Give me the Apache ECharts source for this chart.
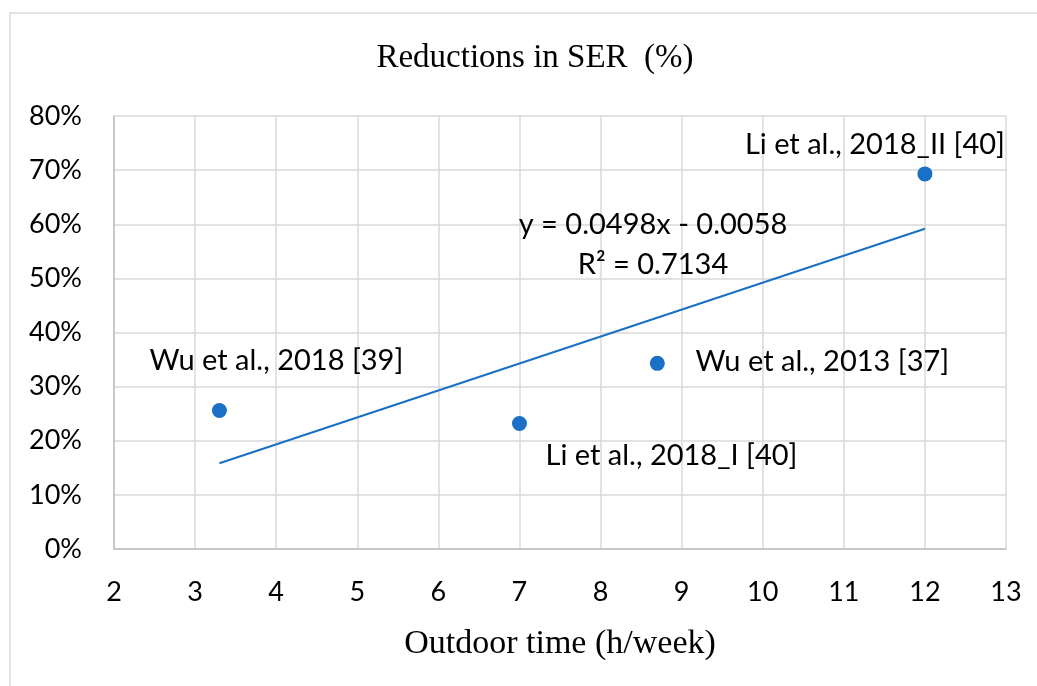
<!DOCTYPE html>
<html>
<head>
<meta charset="utf-8">
<script src="https://cdn.jsdelivr.net/npm/echarts@6/dist/echarts.min.js"></script>
<style>
  html, body { margin: 0; padding: 0; background: #fff; }
  #chart { width: 1037px; height: 686px; }
</style>
</head>
<body>
<div id="chart"></div>
<script>
  // studies: outdoor time (h/week) vs reduction in SER
  var studyNames = ['Wu et al., 2018 [39]', 'Li et al., 2018_I [40]', 'Wu et al., 2013 [37]', 'Li et al., 2018_II [40]']
  var outdoorHours = [3.3, 7, 8.7, 12]
  var serReduction = [0.256, 0.232, 0.343, 0.693]

  // linear trendline from the figure
  var slope = 0.0498
  var intercept = -0.0058
  var r2 = 0.7134

  var xTicks = [2, 3, 4, 5, 6, 7, 8, 9, 10, 11, 12, 13]
  var yTicks = [0, 0.1, 0.2, 0.3, 0.4, 0.5, 0.6, 0.7, 0.8]

  // label offsets (px) relative to each point
  var labelOffsets = [[57, -50], [152, 32], [165, -2], [-50, -29]]

  var blue = '#1a6fc6'
  var sans = 'Lato, "Open Sans", sans-serif'
  var serif = '"Liberation Serif", "DejaVu Serif", serif'

  var myChart = echarts.init(document.getElementById('chart'))

  var points = outdoorHours.map(function (x, i) {
    return {
      name: studyNames[i],
      value: [x, serReduction[i]],
      label: { offset: labelOffsets[i] }
    }
  })

  var xMin = Math.min.apply(null, outdoorHours)
  var xMax = Math.max.apply(null, outdoorHours)
  var trend = [[xMin, slope * xMin + intercept], [xMax, slope * xMax + intercept]]

  var option = {
    backgroundColor: '#fff',
    animation: false,
    title: {
      text: 'Reductions in SER  (%)',
      left: 530,
      top: 37,
      textAlign: 'center',
      textStyle: { fontFamily: serif, fontSize: 33, fontWeight: 'normal', color: '#000' }
    },
    grid: { left: 114, right: 31, top: 116, bottom: 137 },
    xAxis: {
      type: 'value',
      min: xTicks[0],
      max: xTicks[xTicks.length - 1],
      interval: 1,
      name: 'Outdoor time (h/week)',
      nameLocation: 'middle',
      nameGap: 78,
      nameTextStyle: { fontFamily: serif, fontSize: 34, color: '#000' },
      axisLine: { lineStyle: { color: '#bfbfbf', width: 1.5 } },
      axisTick: { show: false },
      axisLabel: { margin: 30, fontFamily: sans, fontSize: 27, color: '#000' },
      splitLine: { show: true, lineStyle: { color: '#d9d9d9', width: 1.5 } }
    },
    yAxis: {
      type: 'value',
      min: yTicks[0],
      max: yTicks[yTicks.length - 1],
      interval: 0.1,
      axisLine: { show: true, lineStyle: { color: '#bfbfbf', width: 1.5 } },
      axisTick: { show: false },
      axisLabel: {
        margin: 32,
        fontFamily: sans,
        fontSize: 27,
        color: '#000',
        formatter: function (v) { return Math.round(v * 100) + '%' }
      },
      splitLine: { show: true, lineStyle: { color: '#d9d9d9', width: 1.5 } }
    },
    graphic: [
      {
        type: 'rect',
        shape: { x: 10, y: 13, width: 1100, height: 800 },
        style: { fill: 'none', stroke: '#d9d9d9', lineWidth: 1.5 },
        silent: true,
        z: 100
      },
      {
        type: 'text',
        x: 653, y: 225,
        z: 100,
        style: {
          text: 'y = ' + slope + 'x - ' + Math.abs(intercept).toFixed(4),
          align: 'center', verticalAlign: 'middle',
          fontFamily: sans, fontSize: 29, fill: '#000'
        }
      },
      {
        type: 'text',
        x: 653, y: 265,
        z: 100,
        style: {
          text: 'R² = ' + r2,
          align: 'center', verticalAlign: 'middle',
          fontFamily: sans, fontSize: 29, fill: '#000'
        }
      }
    ],
    series: [
      {
        name: 'trend',
        type: 'line',
        data: trend,
        symbol: 'none',
        lineStyle: { color: blue, width: 2 },
        z: 2
      },
      {
        name: 'studies',
        type: 'scatter',
        data: points,
        symbol: 'circle',
        symbolSize: 15,
        itemStyle: { color: blue, opacity: 1 },
        label: {
          show: true,
          position: 'inside',
          formatter: '{b}',
          fontFamily: sans,
          fontSize: 29,
          color: '#000'
        },
        z: 3
      }
    ]
  }

  myChart.setOption(option)
</script>
</body>
</html>
